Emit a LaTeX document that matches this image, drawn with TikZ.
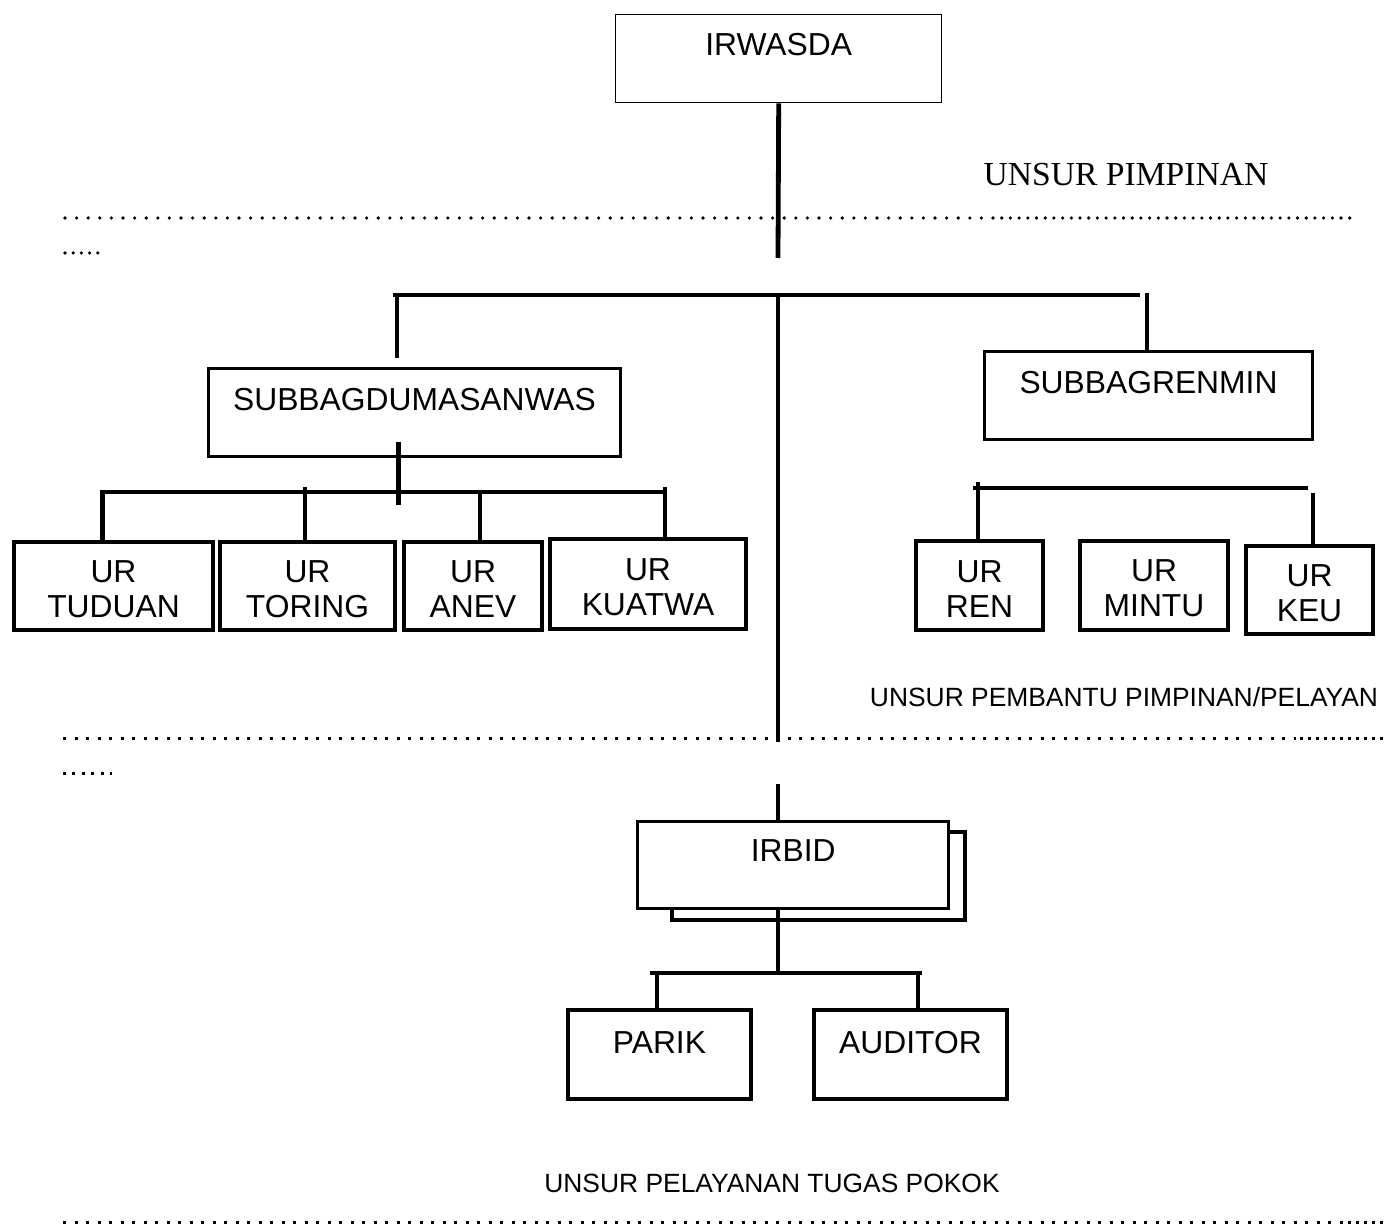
\documentclass[tikz,border=0pt]{standalone}
\usepackage{fontspec}
\setmainfont{Liberation Sans}
\newfontfamily\timesfont{Liberation Serif}
\usetikzlibrary{calc}
\begin{document}
\begin{tikzpicture}[x=0.5pt,y=-0.5pt,
  conn/.style={line width=2.4pt},
  boxbase/.style={draw, rectangle, anchor=north west, inner xsep=0pt, inner ysep=0pt,
    fill=white, font=\fontsize{15.9}{17.5}\selectfont},
  headbox/.style={boxbase, line width=0.7pt},
  subbox/.style={boxbase, line width=1.5pt},
  urbox/.style={boxbase, line width=2pt,
    label={[align=center, inner sep=0pt, yshift=-1.6pt,
            font=\fontsize{15.9}{17.5}\selectfont]center:#1}},
  taskbox/.style={boxbase, line width=2pt},
  dotround/.style={line width=1.8pt, line cap=round, dash pattern=on 0pt off #1},
  dotsquare/.style={line width=1.5pt, dash pattern=on 1.5pt off #1},
  levellabel/.style={anchor=base, inner sep=0pt, font=\fontsize{13.2}{15}\selectfont}
]
\useasboundingbox (0,0) rectangle (1387,1225);

% ---- level separators ----
\draw[dotround=5.8pt]  (65,218) -- (987,218);
\draw[dotround=4.35pt] (993,218) -- (1358,218);
\draw[dotround=4.1pt]  (65,253) -- (99,253);

\draw[dotsquare=4.25pt] (63,738) -- (1296,738);
\draw[dotsquare=2.5pt]  (1300,738) -- (1383,738);
\draw[dotsquare=3.2pt]  (63,773) -- (112,773);

\draw[dotsquare=4.25pt] (63,1222) -- (1335,1222);
\draw[dotsquare=2.5pt]  (1340,1222) -- (1387,1222);

% ---- level captions ----
\node[anchor=base, inner sep=0pt, font=\timesfont\fontsize{16.8}{20}\selectfont]
  (capLead) at (1126,186) {UNSUR PIMPINAN};
\node[levellabel] (capStaff) at (1124,706) {UNSUR PEMBANTU PIMPINAN/PELAYAN};
\node[levellabel] (capTask) at (772,1192) {UNSUR PELAYANAN TUGAS POKOK};

% ---- boxes ----
\node[headbox, minimum width=163pt, text height=20.5pt, text depth=23.5pt]
  (irwasda) at (615,14) {IRWASDA};

\node[subbox, minimum width=206pt, text height=21pt, text depth=23pt]
  (sbdum) at (207,367) {SUBBAGDUMASANWAS};
\node[subbox, minimum width=164pt, text height=21pt, text depth=23pt]
  (sbren) at (983,350) {SUBBAGRENMIN};

\node[urbox={UR\\TUDUAN}, minimum width=99.5pt, minimum height=44pt] (tuduan) at (12,540)  {};
\node[urbox={UR\\TORING}, minimum width=87.5pt, minimum height=44pt] (toring) at (218,540) {};
\node[urbox={UR\\ANEV},   minimum width=69pt,   minimum height=44pt] (anev)   at (402,540) {};
\node[urbox={UR\\KUATWA}, minimum width=98pt,   minimum height=45pt] (kuatwa) at (548,537) {};

\node[urbox={UR\\REN},   minimum width=63.5pt, minimum height=44.5pt] (ren)   at (914,539)  {};
\node[urbox={UR\\MINTU}, minimum width=74pt,   minimum height=44.5pt] (mintu) at (1078,539) {};
\node[urbox={UR\\KEU},   minimum width=63.5pt, minimum height=44pt]   (keu)   at (1244,544) {};

% stacked IRBID boxes
\draw[line width=1.7pt] (672,832) rectangle (965,920);
\node[boxbase, line width=1.7pt, minimum width=155.5pt, text height=20pt, text depth=23.5pt]
  (irbid) at (636,820) {IRBID};

\node[taskbox, minimum width=91.5pt, text height=21.5pt, text depth=23pt]
  (parik) at (566,1008) {PARIK};
\node[taskbox, minimum width=96.5pt, text height=21.5pt, text depth=23pt]
  (auditor) at (812,1008) {AUDITOR};

% ---- connectors ----
\coordinate (spineTop) at (778,258);
\draw[conn] (irwasda.south) -- (spineTop);

\coordinate (barL) at (393,295);
\coordinate (barR) at (1140,295);
\draw[conn] (barL) -- (barR);
\coordinate (spineJ) at (778,295);
\coordinate (spineEnd) at (778,742);
\draw[conn] (spineJ) -- (spineEnd);

\coordinate (dropL) at (397,293);
\draw[conn, shorten >=4.5pt] (dropL) -- (dropL |- sbdum.north);
\coordinate (dropR) at (1147,293);
\draw[conn] (dropR) -- (dropR |- sbren.north);

% SUBBAGDUMASANWAS branch
\draw[conn] ($(sbdum.south)+(-16,-16)$) -- ($(sbdum.south)+(-16,47)$);
\draw[conn] (100,492) -- (667,492);
\coordinate (tTud) at (102.5,492);
\coordinate (tTor) at (305,487);
\coordinate (tAne) at (480,492);
\coordinate (tKua) at (665,487);
\draw[conn] (tTud) -- (tTud |- tuduan.north);
\draw[conn] (tTor) -- (tTor |- toring.north);
\draw[conn] (tAne) -- (tAne |- anev.north);
\draw[conn] (tKua) -- (tKua |- kuatwa.north);

% SUBBAGRENMIN branch
\draw[conn] ($(sbren.south)+(3,7)$) -- ($(sbren.south)+(3,7)$ |- mintu.north);
\draw[conn] (973,488) -- (1308,488);
\coordinate (tRen) at (978,482);
\coordinate (tKeu) at (1313,493);
\draw[conn] (tRen) -- (tRen |- ren.north);
\draw[conn] (tKeu) -- (tKeu |- keu.north);

% IRBID branch
\coordinate (irbidTop) at (778,784);
\draw[conn] (irbidTop) -- (irbidTop |- irbid.north);
\coordinate (irbidBar) at (778,973);
\draw[conn] (irbidBar |- irbid.south) -- (irbidBar);
\draw[conn] (650,973) -- (922,973);
\coordinate (tPar) at (657,973);
\coordinate (tAud) at (918,973);
\draw[conn] (tPar) -- (tPar |- parik.north);
\draw[conn] (tAud) -- (tAud |- auditor.north);
\end{tikzpicture}
\end{document}
